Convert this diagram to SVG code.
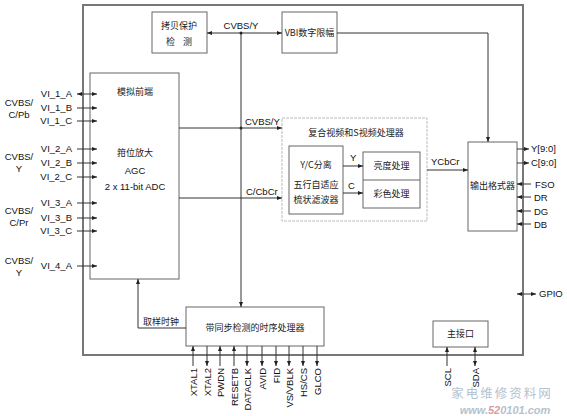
<svg xmlns="http://www.w3.org/2000/svg" width="567" height="416" viewBox="0 0 567 416">
<style>
.box{fill:#fff;stroke:#666;stroke-width:1}
.ln{fill:none;stroke:#333;stroke-width:1}
.a{marker-end:url(#ar)}
.aa{marker-end:url(#ar);marker-start:url(#ar)}
.t{font-family:"Liberation Sans",Arial,sans-serif;font-size:9.5px;fill:#111}
.c{font-family:"Noto Sans CJK SC","Noto Sans CJK JP",sans-serif;font-size:9px;fill:#222}
.m{text-anchor:middle}
.e{text-anchor:end}
</style>
<defs>
<marker id="ar" viewBox="0 0 10 10" refX="10" refY="5" markerWidth="5" markerHeight="5" markerUnits="userSpaceOnUse" orient="auto-start-reverse">
<path d="M0,1 L10,5 L0,9 z" fill="#222"/>
</marker>
</defs>
<rect width="567" height="416" fill="#fff"/>
<rect id="chip" x="83" y="5" width="440" height="350" fill="none" stroke="#777" stroke-width="2"/>

<g id="copy-protect">
<rect class="box" x="152" y="12" width="55" height="41"/>
<text class="c m" x="179" y="29">拷贝保护</text>
<text class="c m" x="179" y="45" xml:space="preserve">检    测</text>
</g>
<g id="vbi">
<rect class="box" x="282" y="12" width="55" height="41"/>
<text class="c m" x="309.5" y="36">VBI数字限幅</text>
</g>
<g id="afe">
<rect class="box" x="90" y="73" width="89" height="206"/>
<text class="c m" x="135" y="95">模拟前端</text>
<text class="c m" x="135" y="156">箝位放大</text>
<text class="t m" x="135" y="174">AGC</text>
<text class="t m" x="135" y="190">2 x 11-bit ADC</text>
</g>
<g id="composite">
<rect x="282" y="118" width="145" height="103" fill="#fff" stroke="#bbb" stroke-width="1" stroke-dasharray="3,1"/>
<text class="c m" x="356" y="136">复合视频和S视频处理器</text>
</g>
<g id="yc-sep">
<rect class="box" x="289" y="146" width="54" height="68"/>
<text class="c m" x="316" y="168">Y/C分离</text>
<text class="c m" x="316" y="188">五行自适应</text>
<text class="c m" x="316" y="203">梳状滤波器</text>
</g>
<g id="luma-chroma">
<rect class="box" x="363" y="152" width="57" height="56"/>
<line x1="363" y1="180" x2="420" y2="180" stroke="#666"/>
<text class="c m" x="391.5" y="169">亮度处理</text>
<text class="c m" x="391.5" y="197">彩色处理</text>
</g>
<g id="output-formatter">
<rect class="box" x="468" y="142" width="49" height="89"/>
<text class="c m" x="492.5" y="189">输出格式器</text>
</g>
<g id="timing">
<rect class="box" x="186" y="307" width="138" height="39"/>
<text class="c m" x="255" y="331">带同步检测的时序处理器</text>
</g>
<g id="host">
<rect class="box" x="433" y="321" width="55" height="26"/>
<text class="c m" x="460.5" y="337">主接口</text>
</g>

<g id="connectors">
<path class="ln aa" d="M207,33 H282"/>
<path class="ln a" d="M241,33 V307"/>
<circle cx="241" cy="33" r="1.5" fill="#222"/>
<circle cx="241" cy="128" r="1.5" fill="#222"/>
<path class="ln a" d="M337,33 H488 V142"/>
<path class="ln a" d="M179,128 H282"/>
<path class="ln a" d="M179,198 H282"/>
<path class="ln a" d="M343,166 H363"/>
<path class="ln a" d="M343,193 H363"/>
<path class="ln a" d="M427,170 H468"/>
<path class="ln a" d="M517,149 H529"/>
<path class="ln a" d="M517,163 H529"/>
<path class="ln a" d="M531,184 H517"/>
<path class="ln a" d="M531,197 H517"/>
<path class="ln a" d="M531,211 H517"/>
<path class="ln a" d="M531,224 H517"/>
<path class="ln aa" d="M517,294 H536"/>
<path class="ln a" d="M186,328 H138 V279"/>
<path class="ln a" d="M447,366 V347"/>
<path class="ln aa" d="M475,366 V347"/>
<path class="ln aa" d="M77,94 H97"/>
<path class="ln a" d="M77,108 H97"/>
<path class="ln a" d="M77,121 H97"/>
<path class="ln a" d="M77,149 H97"/>
<path class="ln a" d="M77,163 H97"/>
<path class="ln a" d="M77,177 H97"/>
<path class="ln a" d="M77,203 H97"/>
<path class="ln a" d="M77,218 H97"/>
<path class="ln a" d="M77,231 H97"/>
<path class="ln a" d="M77,266 H97"/>
<path class="ln a" d="M193,366 V346"/>
<path class="ln a" d="M207,346 V366"/>
<path class="ln a" d="M220,366 V346"/>
<path class="ln a" d="M234,366 V346"/>
<path class="ln a" d="M247,346 V366"/>
<path class="ln a" d="M262,346 V366"/>
<path class="ln a" d="M276,346 V366"/>
<path class="ln a" d="M289,346 V366"/>
<path class="ln a" d="M303,346 V366"/>
<path class="ln a" d="M317,346 V366"/>
</g>

<g id="labels">
<text class="t m" x="241" y="29">CVBS/Y</text>
<text class="t" x="245" y="125">CVBS/Y</text>
<text class="t" x="246" y="195">C/CbCr</text>
<text class="t" x="350" y="161">Y</text>
<text class="t" x="348" y="189">C</text>
<text class="t" x="431" y="165">YCbCr</text>
<text class="c" x="143" y="325">取样时钟</text>
<text class="t" x="531" y="152">Y[9:0]</text>
<text class="t" x="531" y="166">C[9:0]</text>
<text class="t" x="535" y="188">FSO</text>
<text class="t" x="534" y="201">DR</text>
<text class="t" x="534" y="215">DG</text>
<text class="t" x="534" y="228">DB</text>
<text class="t" x="539" y="297">GPIO</text>
<text class="t e" x="72" y="97">VI_1_A</text>
<text class="t e" x="72" y="111">VI_1_B</text>
<text class="t e" x="72" y="124">VI_1_C</text>
<text class="t e" x="72" y="152">VI_2_A</text>
<text class="t e" x="72" y="166">VI_2_B</text>
<text class="t e" x="72" y="180">VI_2_C</text>
<text class="t e" x="72" y="206">VI_3_A</text>
<text class="t e" x="72" y="221">VI_3_B</text>
<text class="t e" x="72" y="234">VI_3_C</text>
<text class="t e" x="72" y="269">VI_4_A</text>
<text class="t m" x="19" y="106">CVBS/</text>
<text class="t m" x="19" y="118">C/Pb</text>
<text class="t m" x="19" y="160">CVBS/</text>
<text class="t m" x="19" y="172">Y</text>
<text class="t m" x="19" y="214">CVBS/</text>
<text class="t m" x="19" y="226">C/Pr</text>
<text class="t m" x="19" y="264">CVBS/</text>
<text class="t m" x="19" y="276">Y</text>
<text class="t e" transform="translate(196.5,368) rotate(-90)">XTAL1</text>
<text class="t e" transform="translate(210.5,368) rotate(-90)">XTAL2</text>
<text class="t e" transform="translate(223.5,368) rotate(-90)">PWDN</text>
<text class="t e" transform="translate(237.5,368) rotate(-90)">RESETB</text>
<text class="t e" transform="translate(250.5,368) rotate(-90)">DATACLK</text>
<text class="t e" transform="translate(265.5,368) rotate(-90)">AVID</text>
<text class="t e" transform="translate(279.5,368) rotate(-90)">FID</text>
<text class="t e" transform="translate(292.5,368) rotate(-90)">VS/VBLK</text>
<text class="t e" transform="translate(306.5,368) rotate(-90)">HS/CS</text>
<text class="t e" transform="translate(320.5,368) rotate(-90)">GLCO</text>
<text class="t e" transform="translate(450.5,368) rotate(-90)">SCL</text>
<text class="t e" transform="translate(478.5,368) rotate(-90)">SDA</text>
</g>
<g id="watermark">
<text x="502" y="398" text-anchor="middle" font-family="Noto Sans CJK SC,sans-serif" font-size="12.5" fill="#b4c2d0" letter-spacing="2">家电维修资料网</text>
<text x="505" y="413.5" text-anchor="middle" font-family="Liberation Sans,Arial,sans-serif" font-size="11" font-weight="bold" font-style="italic" fill="#b4c2d0">www.<tspan fill="#d9a0a0">52</tspan>0101.com</text>
</g>
</svg>
